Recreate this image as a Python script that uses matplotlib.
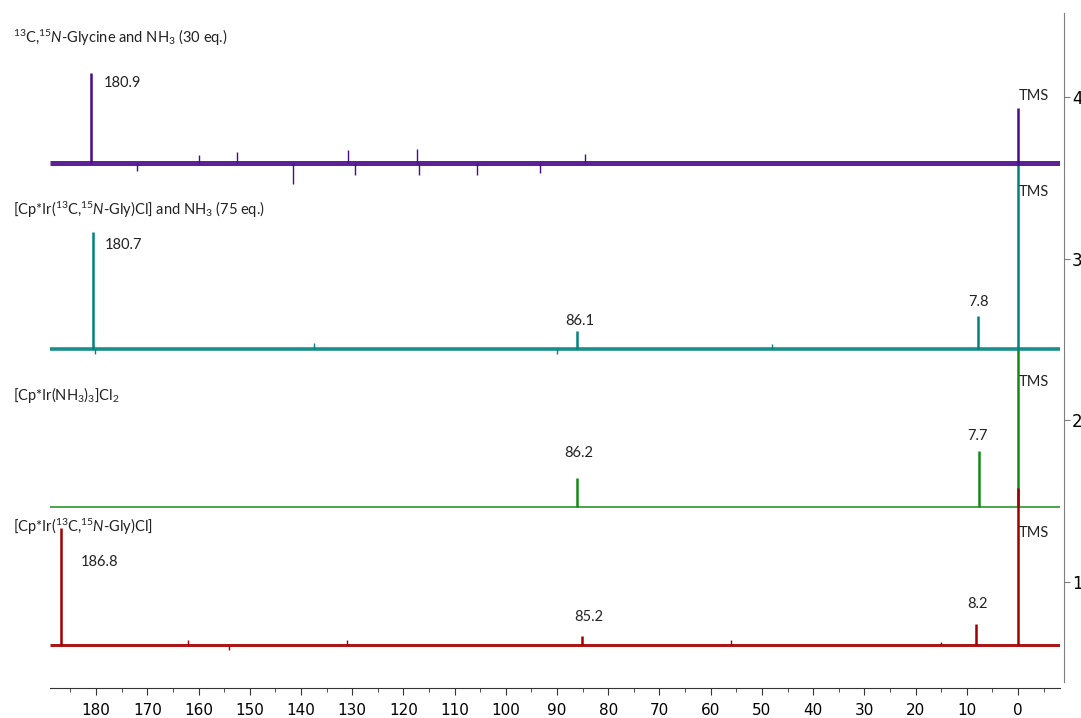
import numpy as np
import matplotlib
matplotlib.use('Agg')
import matplotlib.pyplot as plt

plt.rcParams['font.family'] = ['Lato', 'DejaVu Sans']
plt.rcParams['mathtext.fontset'] = 'custom'
plt.rcParams['mathtext.rm'] = 'Lato'
plt.rcParams['mathtext.it'] = 'Lato:italic'

# chemical shift range (ppm) and stacked traces
x_left, x_right = 189.0, -8.2

names = [r'$^{13}$C,$^{15}$$\it{N}$-Glycine and NH$_3$ (30 eq.)',
         r'[Cp*Ir($^{13}$C,$^{15}$$\it{N}$-Gly)Cl] and NH$_3$ (75 eq.)',
         r'[Cp*Ir(NH$_3$)$_3$]Cl$_2$',
         r'[Cp*Ir($^{13}$C,$^{15}$$\it{N}$-Gly)Cl]']
colors = ['#4b0a8c', '#00827f', '#148a14', '#a00000']
baselines = [3.59, 2.44, 1.465, 0.61]
noise_width = [3.6, 2.6, 1.2, 2.2]

# peaks: position (ppm), top of the peak (axis units)
peak_pos = [[180.9, 0.0],
            [180.7, 86.1, 7.8, 0.0],
            [86.2, 7.7, 0.0],
            [186.8, 85.2, 8.2, 0.0]]
peak_top = [[4.15, 3.93],
            [3.165, 2.55, 2.645, 3.59],
            [1.645, 1.81, 2.44],
            [1.335, 0.665, 0.74, 1.58]]
peak_lbl = [['180.9', 'TMS'],
            ['180.7', '86.1', '7.8', 'TMS'],
            ['86.2', '7.7', 'TMS'],
            ['186.8', '85.2', '8.2', 'TMS']]
lbl_x = [[174.8, -0.2],
         [174.6, 85.6, 7.8, -0.2],
         [85.8, 8.0, -0.2],
         [179.3, 83.8, 8.0, -0.2]]
lbl_y = [[4.087, 4.007],
         [3.085, 2.615, 2.73, 3.41],
         [1.798, 1.905, 2.238],
         [1.124, 0.784, 0.86, 1.30]]

# visible noise spikes (ppm, offset from baseline)
spike_pos = [[152.5, 141.5, 130.8, 129.4, 117.3, 116.9, 105.6, 93.3, 84.5, 160.0, 172.0],
             [137.5, 180.2, 90.0, 48.0],
             [],
             [162.0, 154.0, 131.0, 56.0, 15.0]]
spike_val = [[0.07, -0.13, 0.08, -0.07, 0.09, -0.07, -0.07, -0.06, 0.06, 0.05, -0.05],
             [0.04, -0.03, -0.03, 0.03],
             [],
             [0.03, -0.03, 0.03, 0.03, 0.02]]

title_y = [38, 210, 395, 527]
zorders = [4, 3, 1, 2]

fig = plt.figure(figsize=(10.81, 7.18), dpi=100)
ax = fig.add_axes([50/1081, 1-682/718, (1060-50)/1081, (682-13)/718])

for i in range(4):
    c = colors[i]
    b = baselines[i]
    z = zorders[i]
    ax.plot([x_left, x_right], [b, b], color=c, lw=noise_width[i], alpha=0.9,
            solid_capstyle='butt', zorder=z)
    ax.vlines(spike_pos[i], b, [b + v for v in spike_val[i]], color=c, lw=1.0, zorder=z)
    ax.vlines(peak_pos[i], b, peak_top[i], color=c, lw=1.8, zorder=z)
    for lab, lx, ly in zip(peak_lbl[i], lbl_x[i], lbl_y[i]):
        ha = 'left' if lab == 'TMS' else 'center'
        ax.text(lx, ly, lab, ha=ha, va='center', fontsize=10.5, color='#222222', zorder=6)
    fig.text(13/1081, 1 - title_y[i]/718, names[i], ha='left', va='center',
             fontsize=10.5, color='#222222')

ax.set_xlim(x_left, x_right)
ax.set_ylim(0.38, 4.52)

ax.set_xticks(np.arange(0, 181, 10))
ax.set_xticks(np.arange(-5, 186, 5), minor=True)
ax.set_yticks([1, 2, 3, 4])
ax.yaxis.tick_right()

for s in ['top', 'left']:
    ax.spines[s].set_visible(False)
ax.spines['bottom'].set_position(('outward', 4))
ax.spines['bottom'].set_color('#333333')
ax.spines['right'].set_position(('outward', 3))
ax.spines['right'].set_color('#7f7f7f')

ax.tick_params(axis='x', which='major', direction='out', length=5, color='#333333',
               labelsize=11, pad=6)
ax.tick_params(axis='x', which='minor', direction='out', length=3, color='#333333')
ax.tick_params(axis='y', which='major', direction='out', length=4, color='#7f7f7f',
               labelsize=12, pad=1.5)
for t in ax.get_xticklabels() + ax.get_yticklabels():
    t.set_fontfamily('DejaVu Sans')

fig.savefig('out.png', dpi=100)
